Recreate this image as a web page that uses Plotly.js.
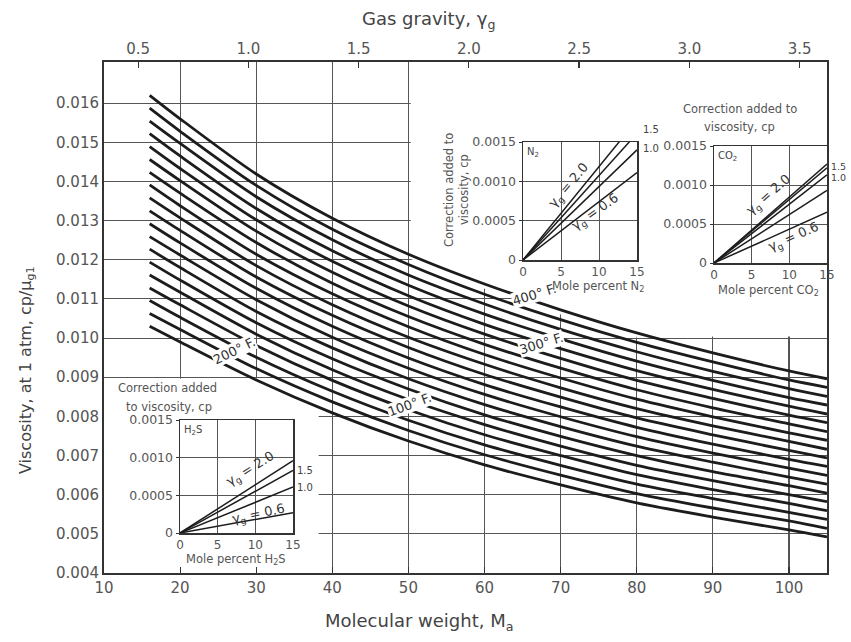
<!DOCTYPE html>
<html>
<head>
<meta charset="utf-8">
<script src="https://cdn.plot.ly/plotly-3.0.1.min.js"></script>
<style>html,body{margin:0;padding:0;background:#fff}#chart{width:851px;height:642px}</style>
</head>
<body>
<div id="chart"></div>
<script>
// ---------- data ----------
const airMW = 28.97;
const molWeight = [16, 20, 30, 40, 50, 60, 70, 80, 90, 100, 105];
const tempF = [40, 60, 80, 100, 120, 140, 160, 180, 200, 220, 240, 260, 280, 300, 320, 340, 360, 380, 400];
const mu040 = [0.01030,0.00990,0.00893,0.00809,0.00737,0.00676,0.00625,0.00579,0.00543,0.00510,0.00492];
const mu060 = [0.01063,0.01022,0.00922,0.00837,0.00764,0.00702,0.00650,0.00603,0.00566,0.00533,0.00514];
const mu080 = [0.01096,0.01053,0.00951,0.00864,0.00790,0.00727,0.00675,0.00627,0.00590,0.00555,0.00537];
const mu100 = [0.01128,0.01085,0.00981,0.00892,0.00817,0.00753,0.00700,0.00651,0.00613,0.00578,0.00559];
const mu120 = [0.01161,0.01117,0.01010,0.00919,0.00843,0.00779,0.00724,0.00675,0.00636,0.00600,0.00582];
const mu140 = [0.01194,0.01148,0.01039,0.00947,0.00870,0.00804,0.00749,0.00700,0.00659,0.00623,0.00604];
const mu160 = [0.01227,0.01180,0.01068,0.00975,0.00896,0.00830,0.00774,0.00724,0.00683,0.00645,0.00627];
const mu180 = [0.01259,0.01212,0.01098,0.01002,0.00923,0.00856,0.00799,0.00748,0.00706,0.00668,0.00649];
const mu200 = [0.01292,0.01243,0.01127,0.01030,0.00949,0.00881,0.00824,0.00772,0.00729,0.00690,0.00672];
const mu220 = [0.01325,0.01275,0.01156,0.01058,0.00976,0.00907,0.00849,0.00796,0.00753,0.00713,0.00694];
const mu240 = [0.01358,0.01307,0.01185,0.01085,0.01002,0.00933,0.00873,0.00820,0.00776,0.00736,0.00716];
const mu260 = [0.01391,0.01338,0.01214,0.01113,0.01029,0.00958,0.00898,0.00844,0.00799,0.00758,0.00739];
const mu280 = [0.01423,0.01370,0.01244,0.01140,0.01055,0.00984,0.00923,0.00868,0.00822,0.00781,0.00761];
const mu300 = [0.01456,0.01402,0.01273,0.01168,0.01082,0.01010,0.00948,0.00892,0.00846,0.00803,0.00784];
const mu320 = [0.01489,0.01433,0.01302,0.01196,0.01108,0.01035,0.00973,0.00917,0.00869,0.00826,0.00806];
const mu340 = [0.01522,0.01465,0.01331,0.01223,0.01135,0.01061,0.00998,0.00941,0.00892,0.00848,0.00829];
const mu360 = [0.01554,0.01497,0.01361,0.01251,0.01161,0.01087,0.01022,0.00965,0.00915,0.00871,0.00851];
const mu380 = [0.01587,0.01528,0.01390,0.01278,0.01188,0.01112,0.01047,0.00989,0.00939,0.00893,0.00874];
const mu400 = [0.01620,0.01560,0.01419,0.01306,0.01214,0.01138,0.01072,0.01013,0.00962,0.00916,0.00896];
const muCurves = [mu040,mu060,mu080,mu100,mu120,mu140,mu160,mu180,mu200,mu220,mu240,mu260,mu280,mu300,mu320,mu340,mu360,mu380,mu400];

const mwTicks = [10,20,30,40,50,60,70,80,90,100];
const mwTickText = ['10','20','30','40','50','60','70','80','90','100'];
const visTicks = [0.004,0.005,0.006,0.007,0.008,0.009,0.010,0.011,0.012,0.013,0.014,0.015,0.016];
const visTickText = ['0.004','0.005','0.006','0.007','0.008','0.009','0.010','0.011','0.012','0.013','0.014','0.015','0.016'];
const gravTicks = [0.5,1.0,1.5,2.0,2.5,3.0,3.5];
const gravTickText = ['0.5','1.0','1.5','2.0','2.5','3.0','3.5'];

// insets: correction (cp) vs mole percent, straight lines from origin
const molePct = [0, 15];
const moleTicks = [0,5,10,15];
const moleTickText = ['0','5','10','15'];
const corrTicks = [0,0.0005,0.0010,0.0015];
const corrTickText = ['0','0.0005','0.0010','0.0015'];
const n2At15  = [0.00178, 0.00161, 0.00140, 0.00111];
const co2At15 = [0.00127, 0.00122, 0.00113, 0.00093, 0.00065];
const h2sAt15 = [0.00096, 0.00083, 0.00061, 0.00027];

// ---------- build figure ----------
const F = 'DejaVu Sans';
const INK = '#1c1c1c';
const GRID = '#555';
const TXT = '#555';
const px = v => (v - 104) / 723;
const py = v => (573 - v) / 511;

const traces = [];
muCurves.forEach((arr, i) => {
  traces.push({x: molWeight, y: arr, mode: 'lines', name: tempF[i] + ' °F',
    line: {color: INK, width: 2.8, shape: 'spline', smoothing: 0.8},
    xaxis: 'x', yaxis: 'y', hoverinfo: 'skip', showlegend: false});
});
traces.push({x: gravTicks, y: gravTicks.map(() => null), mode: 'lines', xaxis: 'x2', yaxis: 'y',
  hoverinfo: 'skip', showlegend: false});

function insetLines(vals, xa, ya) {
  vals.forEach(v => traces.push({x: molePct, y: [0, v], mode: 'lines', cliponaxis: false,
    line: {color: INK, width: 1.5}, xaxis: xa, yaxis: ya, hoverinfo: 'skip', showlegend: false}));
}
insetLines(n2At15, 'x3', 'y3');
insetLines(co2At15, 'x4', 'y4');
insetLines(h2sAt15, 'x5', 'y5');

function insetX(dom, anchor) {
  return {domain: dom, anchor: anchor, range: [0, 15], tickvals: moleTicks, ticktext: moleTickText,
    showgrid: true, gridcolor: GRID, gridwidth: 1, showline: true, mirror: true, linecolor: '#333',
    linewidth: 1.5, ticks: '', zeroline: false, tickfont: {family: F, size: 12, color: TXT}, fixedrange: true};
}
function insetY(dom, anchor) {
  return {domain: dom, anchor: anchor, range: [0, 0.0015], tickvals: corrTicks, ticktext: corrTickText,
    showgrid: true, gridcolor: GRID, gridwidth: 1, showline: true, mirror: true, linecolor: '#333',
    linewidth: 1.5, ticks: 'outside', ticklen: 3, tickcolor: '#333', zeroline: false,
    tickfont: {family: F, size: 12.5, color: TXT}, fixedrange: true};
}

// white area (no grid) above the curves on the right, follows the 400 °F curve
const coverPath = 'M 50.3,0.01705 L 105,0.01705 L 105,0.01004 L 80,0.01004 L 80,' + (mu400[7] - 0.00012) +
  ' L 70,' + (mu400[6] - 0.00012) + ' L 60,' + (mu400[5] - 0.00012) + ' L 50.3,' + (mu400[4] - 0.00012) + ' Z';

const ann = [];
function A(o) {
  ann.push(Object.assign({showarrow: false, xanchor: 'center', yanchor: 'middle',
    font: {family: F, size: 11, color: TXT}}, o));
}

// axis titles
A({text: 'Gas gravity, γ<sub>g</sub>', xref: 'paper', yref: 'paper', x: px(428), y: py(20),
   font: {family: F, size: 18, color: '#444'}});
A({text: 'Molecular weight, M<sub>a</sub>', xref: 'paper', yref: 'paper', x: px(419), y: py(622),
   font: {family: F, size: 18, color: '#444'}});
A({text: 'Viscosity, at 1 atm, cp/μ<sub>g1</sub>', xref: 'paper', yref: 'paper', x: px(26), y: py(370),
   textangle: -90, font: {family: F, size: 16, color: '#444'}});

// temperature labels on curves
const lf = {family: F, size: 13, color: '#333'};
A({text: '400° F.', xref: 'x', yref: 'y', x: 66.6, y: 0.0111, textangle: -17, bgcolor: '#fff', font: lf, borderpad: 0});
A({text: '300° F.', xref: 'x', yref: 'y', x: 67.5, y: 0.00985, textangle: -17, bgcolor: '#fff', font: lf, borderpad: 0});
A({text: '200° F.', xref: 'x', yref: 'y', x: 27.2, y: 0.00967, textangle: -26, bgcolor: '#fff', font: lf, borderpad: 0});
A({text: '100° F.', xref: 'x', yref: 'y', x: 50.2, y: 0.00831, textangle: -20, bgcolor: '#fff', font: lf, borderpad: 0});

const gf = {family: F, size: 13, color: '#333'};
const sf = {family: F, size: 10, color: '#444'};
const tf = {family: F, size: 11.5, color: TXT};
// N2 inset
A({text: 'Correction added to', xref: 'paper', yref: 'paper', x: px(449), y: py(190), textangle: -90, font: tf});
A({text: 'viscosity, cp', xref: 'paper', yref: 'paper', x: px(464), y: py(190), textangle: -90, font: tf});
A({text: 'N<sub>2</sub>', xref: 'x3', yref: 'y3', x: 0.3, y: 0.00148, xanchor: 'left', yanchor: 'top', font: sf});
A({text: 'γ<sub>g</sub> = 2.0', xref: 'x3', yref: 'y3', x: 6.05, y: 0.00095, textangle: -50, font: gf});
A({text: 'γ<sub>g</sub> = 0.6', xref: 'x3', yref: 'y3', x: 9.5, y: 0.00060, textangle: -35, font: gf});
A({text: '1.5', xref: 'paper', yref: 'paper', x: px(641), y: py(129), xanchor: 'left', font: sf});
A({text: '1.0', xref: 'paper', yref: 'paper', x: px(641), y: py(148), xanchor: 'left', font: sf});
A({text: 'Mole percent N<sub>2</sub>', xref: 'paper', yref: 'paper', x: px(598), y: py(286), font: tf});
// CO2 inset
A({text: 'Correction added to', xref: 'paper', yref: 'paper', x: px(740), y: py(109), font: tf});
A({text: 'viscosity, cp', xref: 'paper', yref: 'paper', x: px(739), y: py(127), font: tf});
A({text: 'CO<sub>2</sub>', xref: 'x4', yref: 'y4', x: 0.3, y: 0.00148, xanchor: 'left', yanchor: 'top', font: sf});
A({text: 'γ<sub>g</sub> = 2.0', xref: 'x4', yref: 'y4', x: 7.2, y: 0.00087, textangle: -41, font: gf});
A({text: 'γ<sub>g</sub> = 0.6', xref: 'x4', yref: 'y4', x: 10.5, y: 0.00033, textangle: -24, font: gf});
A({text: '1.5', xref: 'paper', yref: 'paper', x: px(829), y: py(166), xanchor: 'left', font: {family: F, size: 9.5, color: '#444'}});
A({text: '1.0', xref: 'paper', yref: 'paper', x: px(829), y: py(177), xanchor: 'left', font: {family: F, size: 9.5, color: '#444'}});
A({text: 'Mole percent CO<sub>2</sub>', xref: 'paper', yref: 'paper', x: px(768), y: py(290), font: tf});
// H2S inset
A({text: 'Correction added', xref: 'paper', yref: 'paper', x: px(167), y: py(388), font: tf});
A({text: 'to viscosity, cp', xref: 'paper', yref: 'paper', x: px(169), y: py(407), font: tf});
A({text: 'H<sub>2</sub>S', xref: 'x5', yref: 'y5', x: 0.3, y: 0.00148, xanchor: 'left', yanchor: 'top', font: sf});
A({text: 'γ<sub>g</sub> = 2.0', xref: 'x5', yref: 'y5', x: 9.3, y: 0.00084, textangle: -32, font: gf});
A({text: 'γ<sub>g</sub> = 0.6', xref: 'x5', yref: 'y5', x: 10.4, y: 0.00024, textangle: -12, font: gf});
A({text: '1.5', xref: 'paper', yref: 'paper', x: px(295), y: py(470), xanchor: 'left', font: sf});
A({text: '1.0', xref: 'paper', yref: 'paper', x: px(295), y: py(487), xanchor: 'left', font: sf});
A({text: 'Mole percent H<sub>2</sub>S', xref: 'paper', yref: 'paper', x: px(236), y: py(559), font: tf});

const layout = {
  width: 851, height: 642,
  margin: {l: 104, r: 24, t: 62, b: 69, pad: 0},
  paper_bgcolor: '#fff', plot_bgcolor: '#fff',
  showlegend: false,
  font: {family: F, color: TXT},
  xaxis: {domain: [0, 1], anchor: 'y', range: [10, 105], tickvals: mwTicks, ticktext: mwTickText,
    ticks: 'inside', ticklen: 6, tickwidth: 1.2, tickcolor: '#333', showgrid: true, gridcolor: GRID,
    gridwidth: 1.1, showline: true, linecolor: '#333', linewidth: 2, mirror: true, zeroline: false,
    tickfont: {family: F, size: 15, color: TXT}, fixedrange: true},
  xaxis2: {overlaying: 'x', side: 'top', anchor: 'y', range: [10 / airMW, 105 / airMW],
    tickvals: gravTicks, ticktext: gravTickText, ticks: 'inside', ticklen: 6, tickwidth: 1.2,
    tickcolor: '#333', showgrid: false, showline: false, zeroline: false, ticklabelstandoff: 4,
    tickfont: {family: F, size: 15, color: TXT}, fixedrange: true},
  yaxis: {domain: [0, 1], anchor: 'x', range: [0.004, 0.01705], tickvals: visTicks, ticktext: visTickText,
    ticks: '', showgrid: true, gridcolor: GRID, gridwidth: 1.1, showline: true, linecolor: '#333',
    linewidth: 2, mirror: true, zeroline: false, tickfont: {family: F, size: 15, color: TXT}, fixedrange: true},
  xaxis3: insetX([px(523), px(637)], 'y3'),
  yaxis3: insetY([py(260), py(142)], 'x3'),
  xaxis4: insetX([px(714), px(827)], 'y4'),
  yaxis4: insetY([py(263), py(146)], 'x4'),
  xaxis5: insetX([px(180), px(293)], 'y5'),
  yaxis5: insetY([py(533), py(420)], 'x5'),
  shapes: [
    {type: 'path', xref: 'x', yref: 'y', path: coverPath, fillcolor: '#fff', line: {width: 0}, layer: 'between'},
    {type: 'rect', xref: 'x', yref: 'y', x0: 10, x1: 38.2, y0: 0.004, y1: 0.00897, fillcolor: '#fff', line: {width: 0}, layer: 'between'}
  ],
  annotations: ann
};

Plotly.newPlot('chart', traces, layout, {displayModeBar: false, staticPlot: true});
</script>
</body>
</html>
